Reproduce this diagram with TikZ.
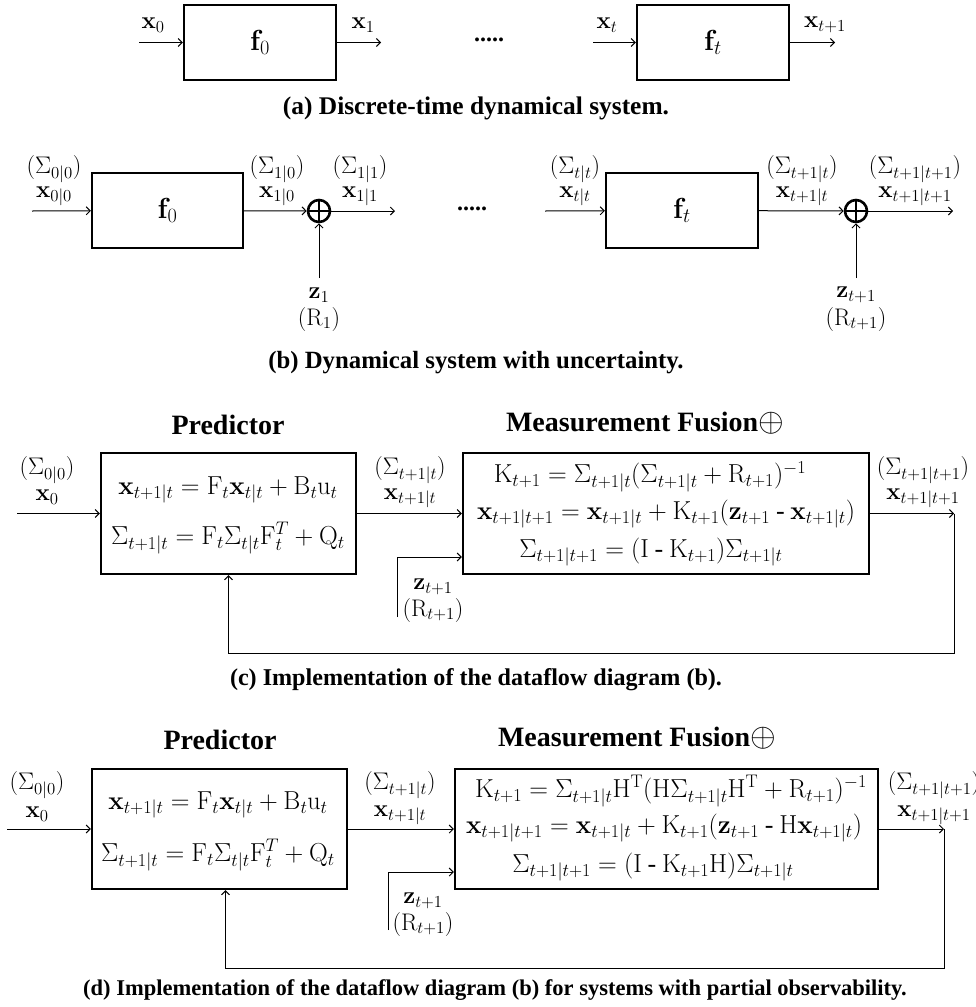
\RequirePackage{fix-cm}
\documentclass[tikz,border=0pt]{standalone}
\usepackage[no-math]{fontspec}
\setmainfont{Liberation Serif}
\usetikzlibrary{arrows.meta,calc}
\newcommand{\bigop}{{\fontsize{33}{33}\selectfont$\oplus$}}
\begin{document}
\begin{tikzpicture}[x=1pt,y=-1pt,
  >={Straight Barb[length=4pt,width=8pt]},
  blk/.style={draw,line width=2.2pt,inner sep=0pt},
  lbl/.style={font=\fontsize{24}{26}\selectfont,inner sep=0pt},
  fnt/.style={font=\fontsize{29}{30}\selectfont},
  eqn/.style={font=\fontsize{26}{28}\selectfont,inner sep=0pt},
  ttl/.style={font=\fontsize{28}{32}\selectfont\bfseries,inner sep=0pt},
  captxt/.style={font=\fontsize{#1}{28}\selectfont\bfseries,inner sep=0pt},
  conn/.style={line width=1pt,->},
  sumnode/.style={circle,draw,line width=2.6pt,minimum size=22pt,inner sep=0pt,
    path picture={\draw[line width=2.6pt] (path picture bounding box.north) -- (path picture bounding box.south)
      (path picture bounding box.west) -- (path picture bounding box.east);}}
]
\useasboundingbox (0,0) rectangle (976,1007);

% ---------------- (a) ----------------
\node[blk,fnt,minimum width=152pt,minimum height=75pt] (fa0) at (260,42.5) {$\mathbf{f}_0$};
\node[blk,fnt,minimum width=152pt,minimum height=75pt] (fat) at (713,42.5) {$\mathbf{f}_t$};
\coordinate (a0in) at (139,42.5);
\coordinate (a1out) at (381,42.5);
\coordinate (atin) at (593,42.5);
\coordinate (atout) at (835,42.5);
\draw[conn] (a0in) -- (fa0);
\draw[conn] (fa0) -- (a1out);
\draw[conn] (atin) -- (fat);
\draw[conn] (fat) -- (atout);
\node[lbl] (ax0) at (153,25) {$\mathbf{x}_0$};
\node[lbl] (ax1) at (363,25) {$\mathbf{x}_1$};
\node[lbl] (axt) at (607,25) {$\mathbf{x}_t$};
\node[lbl] (axt1) at (825,25) {$\mathbf{x}_{t+1}$};
\node[lbl,font=\fontsize{24}{26}\selectfont\bfseries] (adots) at (489,40) {.....};
\node[captxt=25.4] (capa) at (476,108) {(a) Discrete-time dynamical system.};

% ---------------- (b) ----------------
\node[blk,fnt,minimum width=151pt,minimum height=75pt] (fb0) at (167.5,210.5) {$\mathbf{f}_0$};
\node[blk,fnt,minimum width=152pt,minimum height=75pt] (fbt) at (682,210.5) {$\mathbf{f}_t$};
\node[sumnode] (s1) at (319,211) {};
\node[sumnode] (s2) at (856,211) {};
\coordinate (b0in) at (32,211);
\coordinate (b1out) at (395,211);
\coordinate (btin) at (545,211);
\coordinate (btout) at (953,211);
\coordinate (z1in) at (319,278);
\coordinate (z2in) at (856,278);
\draw[conn] (b0in) -- (fb0);
\draw[conn] (fb0) -- (s1);
\draw[conn] (s1) -- (b1out);
\draw[conn] (btin) -- (fbt);
\draw[conn] (fbt) -- (s2);
\draw[conn] (s2) -- (btout);
\draw[conn] (z1in) -- (s1);
\draw[conn] (z2in) -- (s2);
\node[lbl] (bs00) at (54,169) {$(\Sigma_{0|0})$};
\node[lbl] (bx00) at (54,196) {$\mathbf{x}_{0|0}$};
\node[lbl] (bs10) at (277,169) {$(\Sigma_{1|0})$};
\node[lbl] (bx10) at (277,196) {$\mathbf{x}_{1|0}$};
\node[lbl] (bs11) at (360,169) {$(\Sigma_{1|1})$};
\node[lbl] (bx11) at (360,196) {$\mathbf{x}_{1|1}$};
\node[lbl] (bstt) at (575,169) {$(\Sigma_{t|t})$};
\node[lbl] (bxtt) at (575,196) {$\mathbf{x}_{t|t}$};
\node[lbl] (bst1t) at (802,169) {$(\Sigma_{t+1|t})$};
\node[lbl] (bxt1t) at (802,196) {$\mathbf{x}_{t+1|t}$};
\node[lbl] (bst1t1) at (915,169) {$(\Sigma_{t+1|t+1})$};
\node[lbl] (bxt1t1) at (915,196) {$\mathbf{x}_{t+1|t+1}$};
\node[lbl] (bz1) at (319,295) {$\mathbf{z}_1$};
\node[lbl] (br1) at (319,319) {$(\mathrm{R}_1)$};
\node[lbl] (bz2) at (856,295) {$\mathbf{z}_{t+1}$};
\node[lbl] (br2) at (856,319) {$(\mathrm{R}_{t+1})$};
\node[lbl,font=\fontsize{24}{26}\selectfont\bfseries] (bdots) at (472,209) {.....};
\node[captxt=24.8] (capb) at (476,363) {(b) Dynamical system with uncertainty.};

% ---------------- (c) ----------------
\node[ttl] (cpt) at (228,425) {Predictor};
\node[ttl] (cft) at (645,423) {Measurement Fusion\bigop};
\node[blk,minimum width=255pt,minimum height=121pt] (cpred) at (228.5,513.5) {};
\node[blk,minimum width=406pt,minimum height=121pt] (cfus) at (666,513.5) {};
\node[eqn] (ce1) at (228,490) {$\mathbf{x}_{t+1|t} = \mathrm{F}_t\mathbf{x}_{t|t} + \mathrm{B}_t\mathrm{u}_t$};
\node[eqn] (ce2) at (228,538) {$\Sigma_{t+1|t} = \mathrm{F}_t\Sigma_{t|t}\mathrm{F}_t^T + \mathrm{Q}_t$};
\node[eqn] (ce3) at (650,477) {$\mathrm{K}_{t+1} = \Sigma_{t+1|t}(\Sigma_{t+1|t} + \mathrm{R}_{t+1})^{-1}$};
\node[eqn] (ce4) at (666,514) {$\mathbf{x}_{t+1|t+1} = \mathbf{x}_{t+1|t} + \mathrm{K}_{t+1}(\mathbf{z}_{t+1} \mathbin{\mbox{-}} \mathbf{x}_{t+1|t})$};
\node[eqn] (ce5) at (651,552) {$\Sigma_{t+1|t+1} = (\mathrm{I} \mathbin{\mbox{-}} \mathrm{K}_{t+1})\Sigma_{t+1|t}$};
\coordinate (cin) at (17,513.5);
\coordinate (cout) at (954,513.5);
\coordinate (cfb) at (954,653);
\coordinate (czin) at (397,617);
\draw[conn] (cin) -- (cpred);
\draw[conn] (cpred) -- (cfus);
\draw[conn] (cfus) -- (cout);
\draw[conn] (czin) |- ([yshift=-43.5pt]cfus.west);
\draw[conn] (cout) -- (cfb) -| (cpred.south);
\node[lbl] (cs00) at (47,470) {$(\Sigma_{0|0})$};
\node[lbl] (cx0) at (47,497) {$\mathbf{x}_0$};
\node[lbl] (cst1t) at (410,470) {$(\Sigma_{t+1|t})$};
\node[lbl] (cxt1t) at (410,498) {$\mathbf{x}_{t+1|t}$};
\node[lbl] (cst1t1) at (923,470) {$(\Sigma_{t+1|t+1})$};
\node[lbl] (cxt1t1) at (923,498) {$\mathbf{x}_{t+1|t+1}$};
\node[lbl] (cz) at (433,587) {$\mathbf{z}_{t+1}$};
\node[lbl] (cr) at (433,610) {$(\mathrm{R}_{t+1})$};
\node[captxt=24.1] (capc) at (476,680) {(c) Implementation of the dataflow diagram (b).};

% ---------------- (d) ----------------
\node[ttl] (dpt) at (220,740) {Predictor};
\node[ttl] (dft) at (637,738) {Measurement Fusion\bigop};
\node[blk,minimum width=255pt,minimum height=120pt] (dpred) at (219.5,829) {};
\node[blk,minimum width=423pt,minimum height=120pt] (dfus) at (666.5,829) {};
\node[eqn] (de1) at (218,805) {$\mathbf{x}_{t+1|t} = \mathrm{F}_t\mathbf{x}_{t|t} + \mathrm{B}_t\mathrm{u}_t$};
\node[eqn] (de2) at (218,855) {$\Sigma_{t+1|t} = \mathrm{F}_t\Sigma_{t|t}\mathrm{F}_t^T + \mathrm{Q}_t$};
\node[eqn] (de3) at (671,791) {$\mathrm{K}_{t+1} = \Sigma_{t+1|t}\mathrm{H}^{\mathrm{T}}(\mathrm{H}\Sigma_{t+1|t}\mathrm{H}^{\mathrm{T}} + \mathrm{R}_{t+1})^{-1}$};
\node[eqn] (de4) at (664,828) {$\mathbf{x}_{t+1|t+1} = \mathbf{x}_{t+1|t} + \mathrm{K}_{t+1}(\mathbf{z}_{t+1} \mathbin{\mbox{-}} \mathrm{H}\mathbf{x}_{t+1|t})$};
\node[eqn] (de5) at (653,867) {$\Sigma_{t+1|t+1} = (\mathrm{I} \mathbin{\mbox{-}} \mathrm{K}_{t+1}\mathrm{H})\Sigma_{t+1|t}$};
\coordinate (din) at (7,829);
\coordinate (dout) at (944,829);
\coordinate (dfb) at (944,968);
\coordinate (dzin) at (388,930);
\draw[conn] (din) -- (dpred);
\draw[conn] (dpred) -- (dfus);
\draw[conn] (dfus) -- (dout);
\draw[conn] (dzin) |- ([yshift=-43pt]dfus.west);
\draw[conn] (dout) -- (dfb) -| ([xshift=6pt]dpred.south);
\node[lbl] (ds00) at (37,785) {$(\Sigma_{0|0})$};
\node[lbl] (dx0) at (37,814) {$\mathbf{x}_0$};
\node[lbl] (dst1t) at (400,785) {$(\Sigma_{t+1|t})$};
\node[lbl] (dxt1t) at (400,815) {$\mathbf{x}_{t+1|t}$};
\node[lbl] (dst1t1) at (934,785) {$(\Sigma_{t+1|t+1})$};
\node[lbl] (dxt1t1) at (934,815) {$\mathbf{x}_{t+1|t+1}$};
\node[lbl] (dz) at (423,901) {$\mathbf{z}_{t+1}$};
\node[lbl] (dr) at (423,924) {$(\mathrm{R}_{t+1})$};
\node[captxt=22.5] (capd) at (495,990) {(d) Implementation of the dataflow diagram (b) for systems with partial observability.};
\end{tikzpicture}
\end{document}
